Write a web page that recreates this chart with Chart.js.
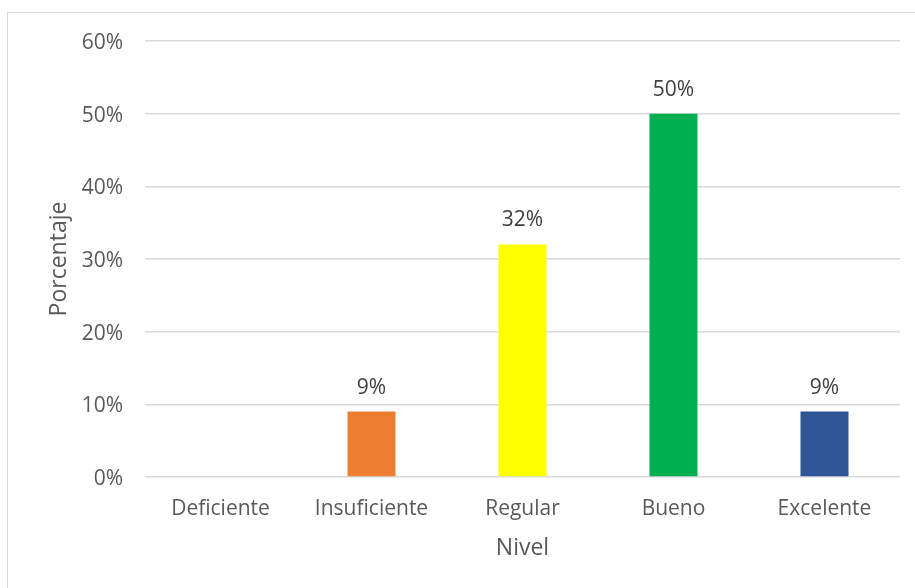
<!DOCTYPE html>
<html>
<head>
<meta charset="utf-8">
<script src="https://cdn.jsdelivr.net/npm/chart.js@4.4.1/dist/chart.umd.min.js"></script>
<style>
  html, body { margin: 0; padding: 0; background: #ffffff; }
  #wrap { position: relative; width: 915px; height: 588px; overflow: hidden; }
  #frame { position: absolute; left: 7px; top: 12px; width: 930px; height: 600px;
           border: 1px solid #d9d9d9; box-sizing: border-box; }
  #c { position: absolute; left: 0; top: 0; }
</style>
</head>
<body>
<div id="wrap">
  <div id="frame"></div>
  <canvas id="c" width="915" height="588"></canvas>
</div>
<script>
// Niveles y porcentaje de respuestas
const categories = ['Deficiente', 'Insuficiente', 'Regular', 'Bueno', 'Excelente'];
const percentages = [0, 9, 32, 50, 9];
const barColors = ['#4472C4', '#ED7D31', '#FFFF00', '#00B050', '#2F5597'];
const yTicks = [0, 10, 20, 30, 40, 50, 60];

const FONT = "'Open Sans', 'DejaVu Sans', sans-serif";
const TEXT = '#595959';

// Etiquetas de valor sobre cada barra (se omiten las de valor cero)
const valueLabels = {
  id: 'valueLabels',
  afterDatasetsDraw(chart) {
    const { ctx } = chart;
    const meta = chart.getDatasetMeta(0);
    ctx.save();
    ctx.font = '21px ' + FONT;
    ctx.fillStyle = '#404040';
    ctx.textAlign = 'center';
    ctx.textBaseline = 'middle';
    meta.data.forEach((bar, i) => {
      const v = chart.data.datasets[0].data[i];
      if (!v) return;
      ctx.fillText(v + '%', bar.x, bar.y - 24);
    });
    ctx.restore();
  }
};

new Chart(document.getElementById('c'), {
  type: 'bar',
  data: {
    labels: categories,
    datasets: [{
      data: percentages,
      backgroundColor: barColors,
      borderWidth: 0,
      categoryPercentage: 1,
      barPercentage: 0.318
    }]
  },
  options: {
    responsive: false,
    animation: false,
    layout: { padding: { top: 41, right: 15, bottom: 0, left: 0 } },
    plugins: { legend: { display: false }, tooltip: { enabled: false } },
    scales: {
      x: {
        grid: { display: false },
        border: { display: false },
        ticks: { color: TEXT, font: { family: FONT, size: 21 }, padding: 11 },
        title: { display: true, text: 'Nivel', color: TEXT,
                 font: { family: FONT, size: 23 }, padding: { top: 0, bottom: 26 } },
        afterFit(scale) { scale.height = 111; }
      },
      y: {
        min: 0,
        max: 60,
        afterBuildTicks(scale) { scale.ticks = yTicks.map(v => ({ value: v })); },
        grid: { color: '#d9d9d9', lineWidth: 1.4, drawTicks: false },
        border: { display: false },
        ticks: { color: TEXT, font: { family: FONT, size: 21 }, padding: 22,
                 labelOffset: 2, callback: v => v + '%' },
        title: { display: true, text: 'Porcentaje', color: TEXT,
                 font: { family: FONT, size: 23 }, padding: { top: 46, bottom: 0 } },
        afterFit(scale) { scale.width = 145; }
      }
    }
  },
  plugins: [valueLabels]
});
</script>
</body>
</html>
